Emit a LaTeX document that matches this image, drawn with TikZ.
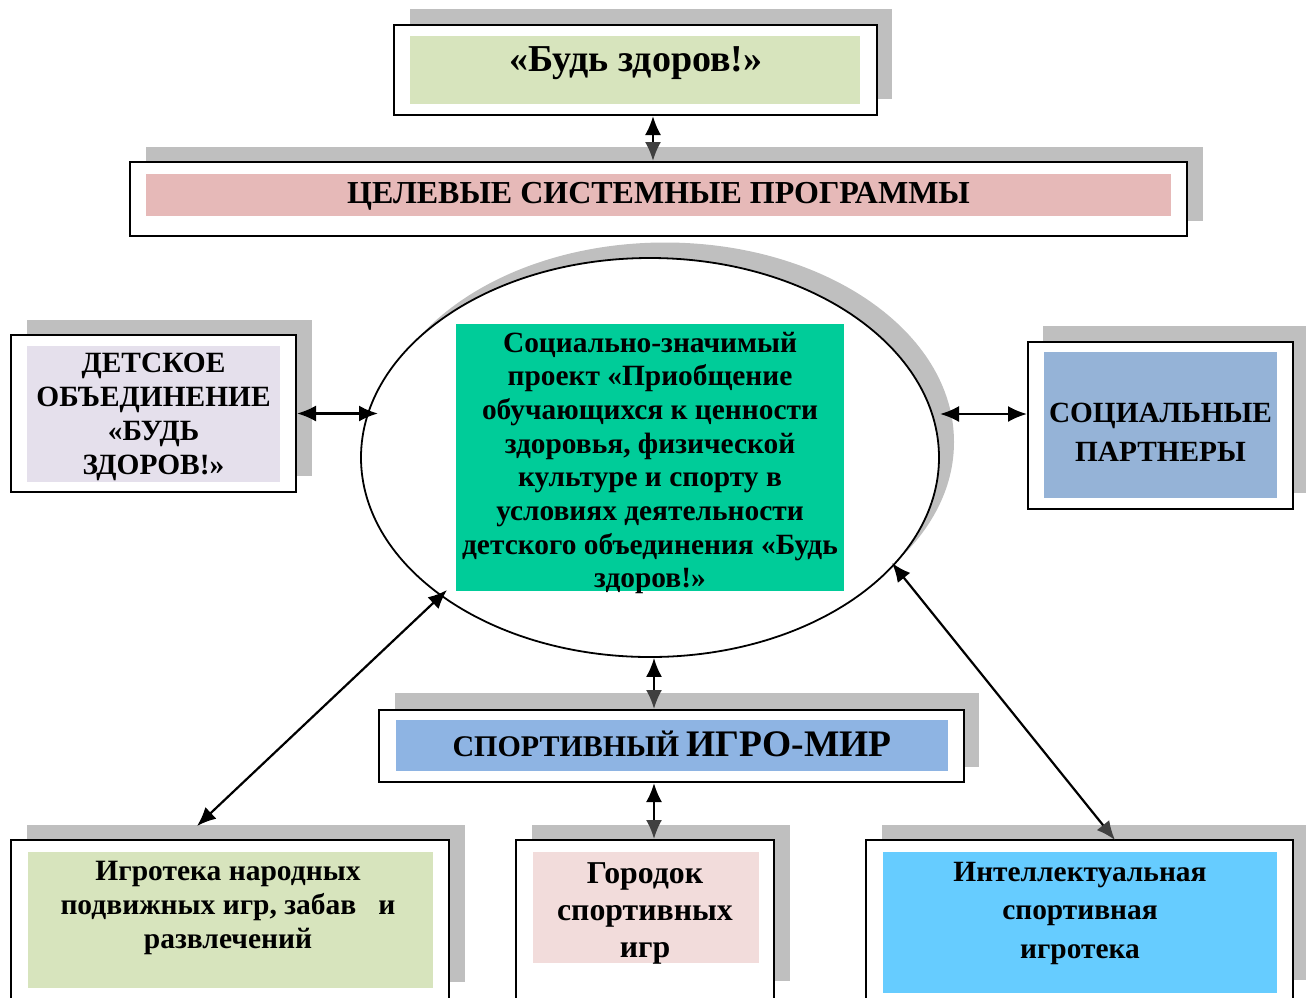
\documentclass[tikz,border=0pt]{standalone}
\usepackage{fontspec}
\setmainfont{Liberation Serif}[BoldFont={Liberation Serif Bold}]
\usetikzlibrary{shapes.geometric,arrows.meta,calc}
\definecolor{shd}{HTML}{BFBFBF}
\definecolor{cTop}{HTML}{D7E4BD}
\definecolor{cTarget}{HTML}{E6B9B8}
\definecolor{cKids}{HTML}{E5E0EC}
\definecolor{cSoc}{HTML}{95B3D7}
\definecolor{cCenter}{HTML}{00CC99}
\definecolor{cSport}{HTML}{8EB4E3}
\definecolor{cGames}{HTML}{D7E4BD}
\definecolor{cTown}{HTML}{F2DCDB}
\definecolor{cIntel}{HTML}{66CCFF}
\definecolor{tipgray}{HTML}{404040}
\tikzset{
  frame/.style={draw=black, line width=2pt, fill=white, inner sep=0pt, minimum width=#1},
  panel/.style={draw=none, inner sep=0pt},
  label/.style={inner sep=0pt, align=center, font=\bfseries},
  tipA/.tip={Latex[length=19pt,width=16pt]},
  tipB/.tip={Latex[length=19pt,width=16pt,color=tipgray]},
  dbl/.style={tipA-tipA, line width=2.2pt},
  dblg/.style={tipA-tipB, line width=2.2pt},
}
\begin{document}
\begin{tikzpicture}[x=1pt,y=-1pt]
\useasboundingbox (0,0) rectangle (1306,997);
% ---------- top box
\fill[shd] (410,9) rectangle (892,99);
\node[frame=483, minimum height=90] (top) at (635.5,70) {};
\node[panel, fill=cTop, minimum width=450, minimum height=68] (topP) at (635,70) {};
\node[label, font=\bfseries\fontsize{38}{42}\selectfont] (topT) at (636,63) {«Будь здоров!»};
% ---------- target programs
\fill[shd] (146,147) rectangle (1203,221);
\node[frame=1057, minimum height=74] (target) at (658.5,199) {};
\node[panel, fill=cTarget, minimum width=1025, minimum height=42] (targetP) at (658.5,195) {};
\node[label, font=\bfseries\fontsize{32}{36}\selectfont] (targetT) at (658.5,196) {ЦЕЛЕВЫЕ СИСТЕМНЫЕ ПРОГРАММЫ};
% ---------- ellipse
\fill[shd] (665,442) ellipse [x radius=289, y radius=199.5];
\node[ellipse, draw=black, line width=1.8pt, fill=white, inner sep=0pt, minimum width=578, minimum height=399] (ell) at (650,457.5) {};
\node[panel, fill=cCenter, minimum width=388, minimum height=267] (cen) at (650,457.5) {};
\node[label, font=\bfseries\fontsize{29.4}{33.7}\selectfont] (cenT) at (650,463) {Социально-значимый\\проект «Приобщение\\обучающихся к ценности\\здоровья, физической\\культуре и спорту в\\условиях деятельности\\детского объединения «Будь\\здоров!»};
% ---------- kids association
\fill[shd] (27,320) rectangle (312,476);
\node[frame=285, minimum height=157] (kids) at (153.5,413.5) {};
\node[panel, fill=cKids, minimum width=253, minimum height=136] (kidsP) at (153.5,414) {};
\node[label, font=\bfseries\fontsize{29.4}{34}\selectfont] (kidsT) at (153.5,417) {ДЕТСКОЕ\\ОБЪЕДИНЕНИЕ\\«БУДЬ\\ЗДОРОВ!»};
% ---------- social partners
\fill[shd] (1043,326) rectangle (1306,493);
\node[frame=265, minimum height=167] (soc) at (1160.5,425.5) {};
\node[panel, fill=cSoc, minimum width=233, minimum height=146] (socP) at (1160.5,425) {};
\node[label, font=\bfseries\fontsize{29.3}{39}\selectfont] (socT) at (1160.5,432) {СОЦИАЛЬНЫЕ\\ПАРТНЕРЫ};
% ---------- sport game world
\fill[shd] (395,693) rectangle (979,767);
\node[frame=585, minimum height=72] (sport) at (671.5,746) {};
\node[panel, fill=cSport, minimum width=552, minimum height=51] (sportP) at (672,745.5) {};
\node[label, font=\bfseries\fontsize{30}{34}\selectfont] (sportT) at (672,744) {СПОРТИВНЫЙ {\fontsize{37.5}{40}\selectfont ИГРО-МИР}};
% ---------- games
\fill[shd] (27,825) rectangle (465,982);
\node[frame=438, minimum height=170] (games) at (230,925) {};
\node[panel, fill=cGames, minimum width=405, minimum height=136] (gamesP) at (230.5,920) {};
\node[label, font=\bfseries\fontsize{29.5}{34}\selectfont] (gamesT) at (228,908) {Игротека народных\\подвижных игр, забав \ \ и\\развлечений};
% ---------- town
\fill[shd] (532,825) rectangle (790,981);
\node[frame=258, minimum height=170] (town) at (645,925) {};
\node[panel, fill=cTown, minimum width=226, minimum height=111] (townP) at (646,907.5) {};
\node[label, font=\bfseries\fontsize{31.8}{37}\selectfont] (townT) at (645,913) {Городок\\спортивных\\игр};
% ---------- intellectual
\fill[shd] (882,825) rectangle (1306,980);
\node[frame=427, minimum height=170] (intel) at (1079.5,925) {};
\node[panel, fill=cIntel, minimum width=394, minimum height=141] (intelP) at (1080,922.5) {};
\node[label, font=\bfseries\fontsize{29.4}{38.5}\selectfont] (intelT) at (1080,913) {Интеллектуальная\\спортивная\\игротека};
% ---------- connectors
\coordinate (ax1) at (653,0);
\coordinate (ax2) at (654,0);
\coordinate (lk) at (378,413.5);
\coordinate (rs) at (940,414);
\coordinate (gE) at (447,590);
\coordinate (gB) at (197,826);
\coordinate (iE) at (892,563);
\coordinate (iB) at (1115,840);
\draw[dblg] (top.south -| ax1) -- (target.north -| ax1);
\draw[dbl] (kids.east) -- (lk);
\draw[dbl] (rs) -- (soc.west |- rs);
\draw[dblg] (ell.south -| ax2) -- (sport.north -| ax2);
\draw[dblg] (sport.south -| ax2) -- (town.north -| ax2);
\draw[dbl] (gE) -- (gB);
\draw[dblg] (iE) -- (iB);
\end{tikzpicture}
\end{document}
